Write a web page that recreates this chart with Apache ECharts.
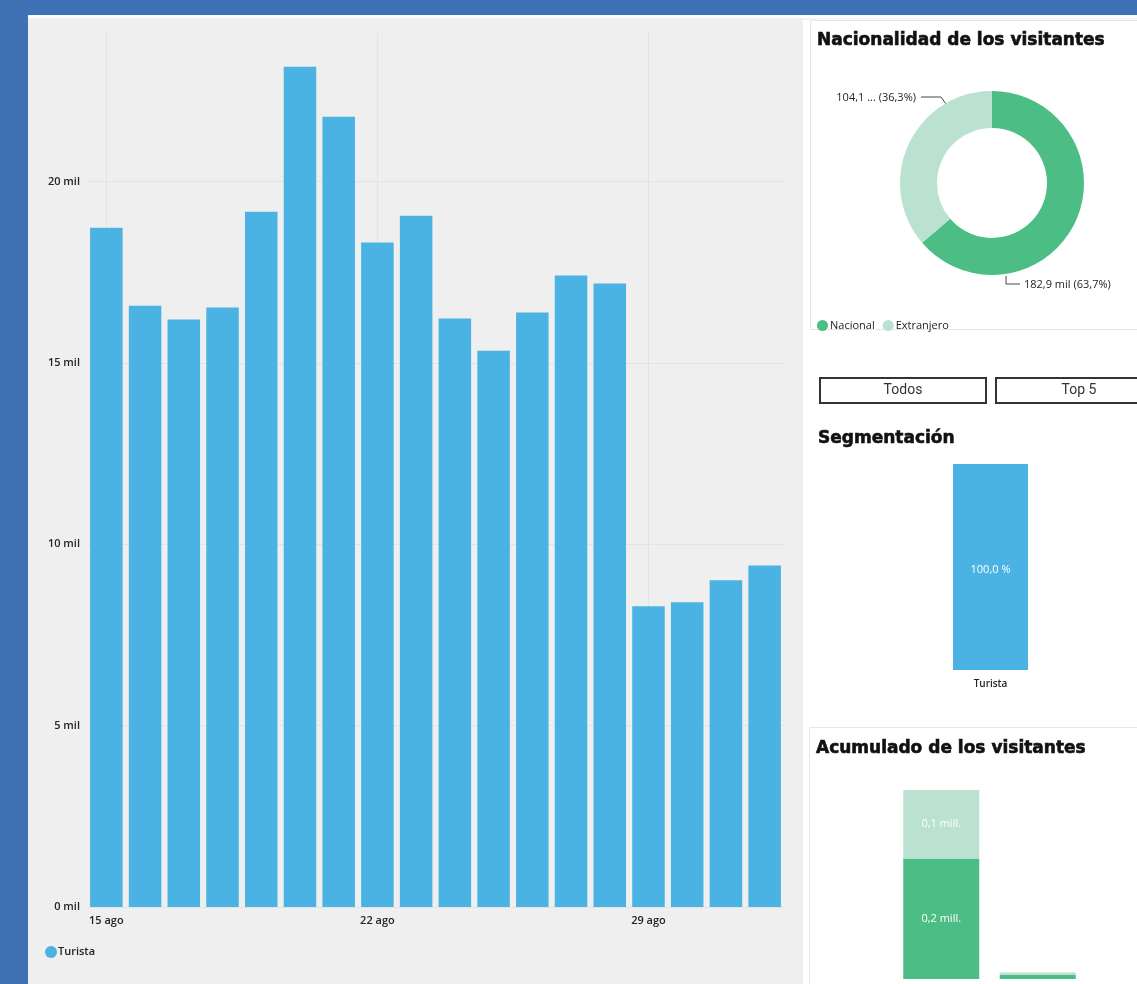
<!DOCTYPE html>
<html><head><meta charset="utf-8">
<script src="https://cdn.jsdelivr.net/npm/echarts@6/dist/echarts.min.js"></script>
<style>html,body{margin:0;padding:0;overflow:hidden}#c{width:1137px;height:984px}</style>
</head><body><div id="c"></div>
<script>
// ---- data ----
const dates = ['15 ago','16 ago','17 ago','18 ago','19 ago','20 ago','21 ago','22 ago','23 ago','24 ago','25 ago','26 ago','27 ago','28 ago','29 ago','30 ago','31 ago','1 sept'];
const turista = [18730,16580,16200,16530,19170,23170,21790,18320,19060,16230,15340,16390,17410,17190,8290,8400,9010,9420];
const yTickStep = 5000;
const yMax = 24100;
const nacionalidadNames = ['Nacional','Extranjero'];
const nacionalidadValues = [182900,104100];
const segmentCategories = ['Turista'];
const segmentValues = [100];
const acumuladoCategories = ['Turista','Excursionista'];
const acumuladoNacional = [182900,6000];
const acumuladoExtranjero = [104100,4000];

const BLUE = '#4AB3E4', GREEN = '#4CBD85', LGREEN = '#BBE2D0';
const FONT = 'Open Sans';
const TXT = '#252423';
const es = n => n.toFixed(1).replace('.', ',');
const titleStyle = t => ({text:t, font:'bold 17px "DejaVu Sans"', fill:'#111', stroke:'#111', lineWidth:0.6, verticalAlign:'middle'});

const chart = echarts.init(document.getElementById('c'), null, {renderer:'canvas'});
chart.setOption({
  backgroundColor:'#3E72B5',
  animation:false,
  textStyle:{fontFamily:FONT},
  graphic:[
    {type:'rect', z:-10, shape:{x:28,y:15,width:1109,height:969}, style:{fill:'#ffffff'}},
    {type:'rect', z:-9, shape:{x:28,y:18,width:775,height:966}, style:{fill:'#EFEFEF'}},
    {type:'rect', z:-9, shape:{x:803,y:18,width:334,height:2}, style:{fill:'#F4F4F4'}},
    {type:'rect', z:-8, shape:{x:810.5,y:20.5,width:340,height:309}, style:{fill:'#fff',stroke:'#E6E6E6',lineWidth:1}},
    {type:'rect', z:-8, shape:{x:809.5,y:727.5,width:340,height:270}, style:{fill:'#fff',stroke:'#E6E6E6',lineWidth:1}},
    {type:'text', z:10, x:817, y:41, style:titleStyle('Nacionalidad de los visitantes')},
    {type:'text', z:10, x:818, y:439, style:titleStyle('Segmentación')},
    {type:'text', z:10, x:816, y:749, style:titleStyle('Acumulado de los visitantes')},
    {type:'rect', z:10, shape:{x:820,y:378,width:166,height:25}, style:{fill:'#fff',stroke:'#333',lineWidth:2}},
    {type:'rect', z:10, shape:{x:996,y:378,width:160,height:25}, style:{fill:'#fff',stroke:'#333',lineWidth:2}},
    {type:'text', z:11, x:903, y:390.5, style:{text:'Todos', font:'14px Roboto', fill:'#333', align:'center', verticalAlign:'middle'}},
    {type:'text', z:11, x:1079, y:390.5, style:{text:'Top 5', font:'14px Roboto', fill:'#333', align:'center', verticalAlign:'middle'}}
  ],
  legend:[
    {data:['Turista'], left:40, top:941, icon:'circle', itemWidth:12, itemHeight:12, itemGap:10,
     textStyle:{fontSize:11, color:TXT, fontWeight:600, fontFamily:FONT, padding:[0,0,0,-4]}},
    {data:nacionalidadNames, left:812, top:315, icon:'circle', itemWidth:11, itemHeight:11, itemGap:8,
     textStyle:{fontSize:11, color:TXT, fontFamily:FONT, padding:[0,0,0,-3]}}
  ],
  grid:[
    {left:87, right:353, top:33, bottom:77},
    {left:920, width:141, top:464, height:206},
    {left:893, width:193, top:790, height:189}
  ],
  xAxis:[
    {gridIndex:0, type:'category', data:dates,
     axisLine:{show:false}, axisTick:{show:false},
     axisLabel:{interval:6, margin:8, fontSize:11, fontWeight:600, color:TXT},
     splitLine:{show:true, interval:6, alignWithLabel:true, lineStyle:{color:'#E3E3E3'}}},
    {gridIndex:1, type:'category', data:segmentCategories,
     axisLine:{show:false}, axisTick:{show:false},
     axisLabel:{margin:9, fontSize:10, fontWeight:600, color:TXT}},
    {gridIndex:2, type:'category', data:acumuladoCategories, show:false}
  ],
  yAxis:[
    {gridIndex:0, type:'value', min:0, max:yMax, interval:yTickStep,
     axisLine:{show:false}, axisTick:{show:false},
     axisLabel:{margin:7, fontSize:11, fontWeight:600, color:TXT, showMaxLabel:false, formatter:v=>(v/1000)+' mil'},
     splitLine:{showMaxLine:false, lineStyle:{color:'#E3E3E3'}}},
    {gridIndex:1, type:'value', min:0, max:100, show:false},
    {gridIndex:2, type:'value', min:0, max:v=>v.max, show:false}
  ],
  series:[
    {name:'Turista', type:'bar', xAxisIndex:0, yAxisIndex:0, data:turista, barCategoryGap:'16%',
     itemStyle:{color:BLUE}},
    {name:'Nacionalidad', type:'pie', center:[992,183], radius:[55,92], startAngle:90, clockwise:true,
     avoidLabelOverlap:false,
     data:nacionalidadNames.map((n,i)=>({name:n, value:nacionalidadValues[i], itemStyle:{color:i===0?GREEN:LGREEN}})),
     label:{show:true, position:'outside', fontSize:11, color:TXT, fontFamily:FONT,
       formatter:p=> p.dataIndex===0 ? es(p.value/1000)+' mil ('+es(p.percent)+'%)'
                                     : es(p.value/1000).slice(0,5)+' ... ('+es(p.percent)+'%)'},
     labelLine:{show:true, length:8, length2:14, lineStyle:{color:'#444', width:1}},
     labelLayout:p=> p.dataIndex===0
        ? {x:1024, y:285, align:'left', verticalAlign:'middle', labelLinePoints:[[1006,276],[1006,284],[1020,284]]}
        : {x:916, y:98, align:'right', verticalAlign:'middle', labelLinePoints:[[946,104],[941,97],[921,97]]}
    },
    {name:'Segmentación', type:'bar', xAxisIndex:1, yAxisIndex:1, data:segmentValues, barWidth:75,
     itemStyle:{color:BLUE},
     label:{show:true, position:'inside', color:'#fff', fontSize:11, offset:[0,3], formatter:p=>es(p.value)+' %'}},
    {name:'Nacional', type:'bar', xAxisIndex:2, yAxisIndex:2, stack:'acc', data:acumuladoNacional, barWidth:76,
     itemStyle:{color:GREEN},
     label:{show:true, position:'inside', color:'#fff', fontSize:11, formatter:p=>p.value>=50000?es(p.value/1e6)+' mill.':''}},
    {name:'Extranjero', type:'bar', xAxisIndex:2, yAxisIndex:2, stack:'acc', data:acumuladoExtranjero, barWidth:76,
     itemStyle:{color:LGREEN},
     label:{show:true, position:'inside', color:'#fff', fontSize:11, formatter:p=>p.value>=50000?es(p.value/1e6)+' mill.':''}}
  ]
});
</script></body></html>
